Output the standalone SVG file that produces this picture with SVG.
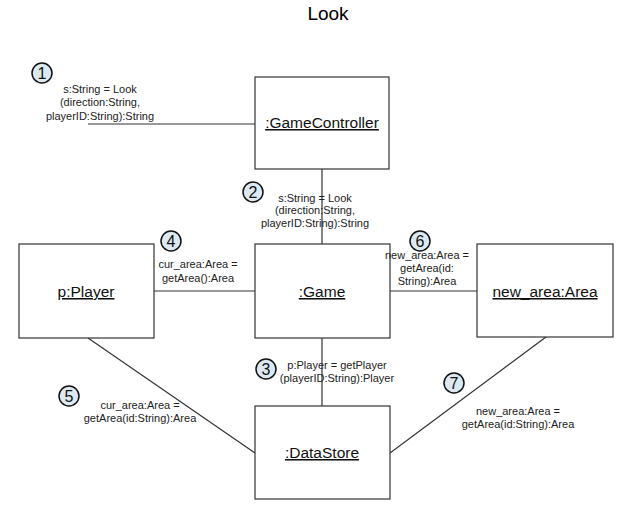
<svg xmlns="http://www.w3.org/2000/svg" width="633" height="515" viewBox="0 0 633 515">
<style>
.box{fill:#fff;stroke:#333;stroke-width:1.2}
.nl{font-family:"Liberation Sans",Arial,sans-serif;font-size:15.5px;fill:#111;text-anchor:middle;text-decoration:underline}
.lbl{font-family:"Liberation Sans",Arial,sans-serif;font-size:11px;fill:#222;text-anchor:middle}
.num{fill:#dce9f2;stroke:#111;stroke-width:1.5}
.nt{font-family:"Liberation Sans",Arial,sans-serif;font-size:16px;fill:#111;text-anchor:middle}
.c{stroke:#333;stroke-width:1.2;fill:none}
</style>
<rect width="633" height="515" fill="#fff"/>
<text x="328" y="20" font-family="'Liberation Sans',Arial,sans-serif" font-size="19" text-anchor="middle" fill="#000">Look</text>
<g id="connectors">
<line class="c" x1="88" y1="124" x2="255" y2="124"/>
<line class="c" x1="322" y1="169" x2="322" y2="244"/>
<line class="c" x1="154" y1="291" x2="255" y2="291"/>
<line class="c" x1="390" y1="291" x2="477" y2="291"/>
<line class="c" x1="322" y1="338" x2="322" y2="406"/>
<line class="c" x1="88" y1="338" x2="255" y2="453"/>
<line class="c" x1="546" y1="337" x2="390" y2="453"/>
</g>
<g id="gamecontroller"><rect class="box" x="255" y="77" width="134" height="92"/><text class="nl" x="322" y="128">:GameController</text></g>
<g id="player"><rect class="box" x="19" y="244" width="135" height="94"/><text class="nl" x="86" y="297">p:Player</text></g>
<g id="game"><rect class="box" x="255" y="244" width="135" height="94"/><text class="nl" x="322" y="297">:Game</text></g>
<g id="newarea"><rect class="box" x="477" y="244" width="136" height="93"/><text class="nl" x="545" y="297">new_area:Area</text></g>
<g id="datastore"><rect class="box" x="255" y="406" width="135" height="93"/><text class="nl" x="322" y="458">:DataStore</text></g>
<g id="labels">
<text class="lbl"><tspan x="100" y="93">s:String = Look</tspan><tspan x="100" y="106">(direction:String,</tspan><tspan x="100" y="120">playerID:String):String</tspan></text>
<text class="lbl"><tspan x="315" y="202">s:String = Look</tspan><tspan x="315" y="214">(direction:String,</tspan><tspan x="315" y="227">playerID:String):String</tspan></text>
<text class="lbl"><tspan x="198" y="268">cur_area:Area =</tspan><tspan x="198" y="282">getArea():Area</tspan></text>
<text class="lbl"><tspan x="427" y="259">new_area:Area =</tspan><tspan x="427" y="272">getArea(id:</tspan><tspan x="427" y="285">String):Area</tspan></text>
<text class="lbl"><tspan x="337" y="369">p:Player = getPlayer</tspan><tspan x="337" y="382">(playerID:String):Player</tspan></text>
<text class="lbl"><tspan x="140" y="409">cur_area:Area =</tspan><tspan x="140" y="422">getArea(id:String):Area</tspan></text>
<text class="lbl"><tspan x="518" y="415">new_area:Area =</tspan><tspan x="518" y="428">getArea(id:String):Area</tspan></text>
</g>
<g id="n1"><circle class="num" cx="42" cy="73" r="10"/><text class="nt" x="42" y="79">1</text></g>
<g id="n2"><circle class="num" cx="253" cy="192" r="10"/><text class="nt" x="253" y="198">2</text></g>
<g id="n3"><circle class="num" cx="266" cy="369" r="10"/><text class="nt" x="266" y="375">3</text></g>
<g id="n4"><circle class="num" cx="171" cy="241" r="10"/><text class="nt" x="171" y="247">4</text></g>
<g id="n5"><circle class="num" cx="69" cy="396" r="10"/><text class="nt" x="69" y="402">5</text></g>
<g id="n6"><circle class="num" cx="420" cy="241" r="10"/><text class="nt" x="420" y="247">6</text></g>
<g id="n7"><circle class="num" cx="454" cy="383" r="10"/><text class="nt" x="454" y="389">7</text></g>
</svg>
